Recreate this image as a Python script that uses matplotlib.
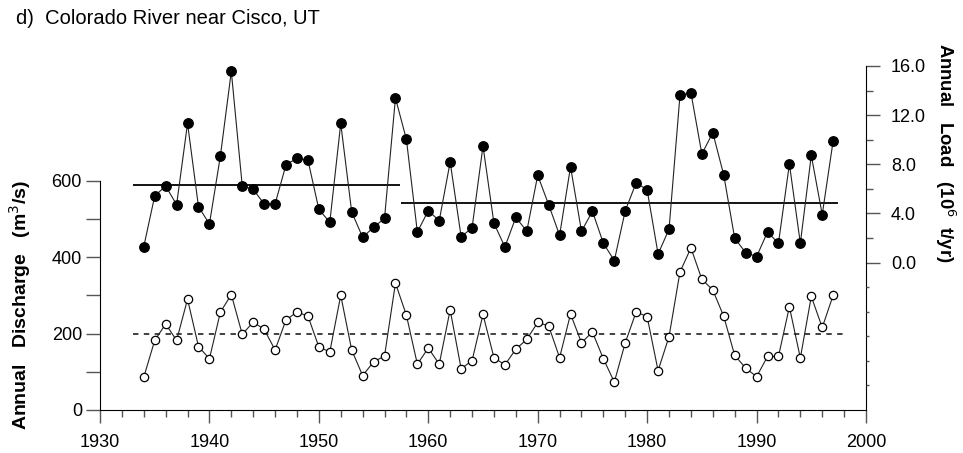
import matplotlib
matplotlib.use("Agg")
import matplotlib.pyplot as plt
from matplotlib.ticker import FixedLocator, FormatStrFormatter, NullFormatter

plt.rcParams["font.family"] = ["Liberation Sans", "DejaVu Sans"]

# Annual values.
YEARS = list(range(1934, 1998))

LOAD = [  # 10^6 t/yr, filled circles, right axis
    1.30, 5.42, 6.23, 4.71, 11.33, 4.55, 3.14, 8.67, 15.56, 6.23,
    5.96, 4.77, 4.77, 7.97, 8.48, 8.35, 4.33, 3.28, 11.33, 4.12,
    2.06, 2.87, 3.60, 13.39, 10.03, 2.49, 4.22, 3.41, 8.19, 2.11,
    2.82, 9.49, 3.20, 1.27, 3.68, 2.55, 7.10, 4.71, 2.22, 7.80,
    2.55, 4.17, 1.57, 0.16, 4.22, 6.50, 5.91, 0.70, 2.71, 13.61,
    13.83, 8.84, 10.57, 7.13, 1.98, 0.81, 0.48, 2.49, 1.57, 8.02,
    1.57, 8.73, 3.90, 9.92,
]

DISCHARGE = [  # m3/s, open circles, left axis
    86, 182, 225, 182, 290, 166, 134, 256, 302, 198,
    230, 211, 157, 236, 256, 246, 165, 152, 300, 157,
    90, 126, 141, 332, 248, 120, 162, 120, 262, 108,
    129, 250, 137, 118, 159, 185, 229, 220, 137, 251,
    176, 204, 134, 73, 176, 257, 244, 103, 192, 361,
    424, 342, 314, 245, 143, 110, 87, 140, 140, 270,
    136, 297, 216, 300,
]

# period means (load: solid lines, discharge: dotted line)
LOAD_MEAN_PERIODS = [(1933.0, 1957.4), (1957.5, 1997.4)]
LOAD_MEANS = [6.35, 4.85]
DISCHARGE_MEAN_PERIOD = (1933.0, 1998.2)
DISCHARGE_MEAN = 200

TICK_COLOUR = "#555555"
LINE_COLOUR = "#222222"
TICK_FS = 13

fig = plt.figure(figsize=(9.63, 4.53), dpi=100)
ax = fig.add_axes([100 / 963, 43 / 453, 766 / 963, 344 / 453])
ax2 = ax.twinx()
ax3 = ax.twinx()  # only carries the tiny ticks below 0 on the load axis

# discharge
ax.plot(YEARS, DISCHARGE, color=LINE_COLOUR, lw=0.8, marker="o", ms=6,
        mfc="white", mec="black", mew=0.9, zorder=3)
ax.hlines(DISCHARGE_MEAN, *DISCHARGE_MEAN_PERIOD, colors="#333333",
          linestyles=(0, (3, 3)), lw=1.3)

# load
ax2.plot(YEARS, LOAD, color=LINE_COLOUR, lw=0.8, marker="o", ms=6.8,
         mfc="black", mec="black", zorder=3)
for (x0, x1), m in zip(LOAD_MEAN_PERIODS, LOAD_MEANS):
    ax2.hlines(m, x0, x1, colors="black", lw=1.3)

ax.set_xlim(1930, 2000)
ax.set_ylim(0, 900)
ax2.set_ylim(-12, 16)
ax3.set_ylim(-12, 16)

# spines
for a in (ax, ax2, ax3):
    a.spines["top"].set_visible(False)
ax.spines["right"].set_visible(False)
ax2.spines["left"].set_visible(False)
ax2.spines["bottom"].set_visible(False)
for s in ax3.spines.values():
    s.set_visible(False)
ax.spines["left"].set_bounds(0, 600)
ax.spines["bottom"].set_bounds(1930, 2000)
ax2.spines["right"].set_bounds(-12, 16)

# x ticks
ax.xaxis.set_major_locator(FixedLocator(range(1930, 2001, 10)))
ax.xaxis.set_minor_locator(FixedLocator(range(1930, 2001, 2)))
ax.tick_params(axis="x", which="major", length=9, width=1, color=TICK_COLOUR,
               labelsize=TICK_FS, pad=8)
ax.tick_params(axis="x", which="minor", length=5, width=1, color=TICK_COLOUR)

# left y ticks
ax.yaxis.set_major_locator(FixedLocator([0, 200, 400, 600]))
ax.yaxis.set_minor_locator(FixedLocator([100, 300, 500]))
ax.tick_params(axis="y", which="both", length=10, width=1, color=TICK_COLOUR,
               labelsize=TICK_FS, pad=3)

# right y ticks
ax2.yaxis.set_major_locator(FixedLocator([0, 4, 8, 12, 16]))
ax2.yaxis.set_minor_locator(FixedLocator([2, 6, 10, 14]))
ax2.yaxis.set_major_formatter(FormatStrFormatter("%.1f"))
ax2.tick_params(axis="y", which="major", length=10, width=1, color=TICK_COLOUR,
                labelsize=TICK_FS, pad=8)
ax2.tick_params(axis="y", which="minor", length=5, width=1, color=TICK_COLOUR)

ax3.yaxis.set_major_locator(FixedLocator([-10, -8, -6, -4, -2]))
ax3.yaxis.set_major_formatter(NullFormatter())
ax3.tick_params(axis="y", which="major", length=2.5, width=1, color=TICK_COLOUR)

fig.text(16 / 963, 1 - 19 / 453, "d)  Colorado River near Cisco, UT",
         fontsize=14.5, ha="left", va="center")
fig.text(20 / 963, 1 - 305 / 453, "Annual   Discharge   (m$^3$/s)",
         fontsize=14, fontweight="bold", rotation=90, ha="center", va="center")
fig.text(945 / 963, 1 - 153 / 453, "Annual   Load   (10$^6$  t/yr)",
         fontsize=13.3, fontweight="bold", rotation=270, ha="center", va="center")

fig.savefig("out.png", dpi=100)
